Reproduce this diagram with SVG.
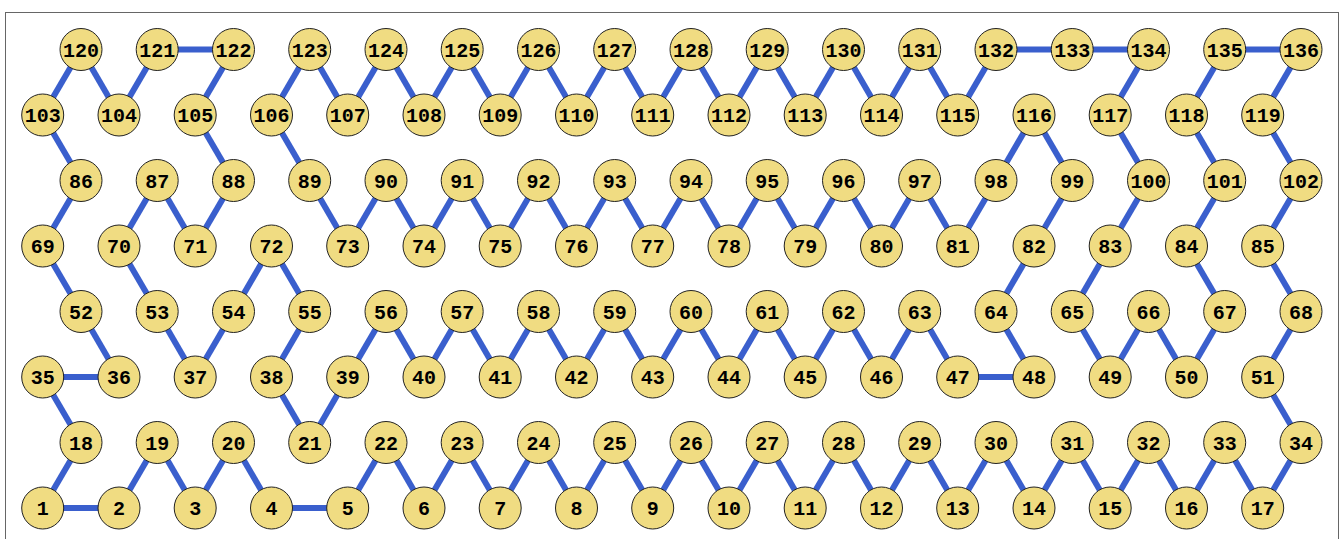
<svg xmlns="http://www.w3.org/2000/svg" width="1343" height="539" viewBox="0 0 1343 539">
<style>
.node circle{fill:#f0dc82;stroke:#222;stroke-width:1}
.node text{font-family:"Liberation Mono","Courier New",monospace;font-weight:bold;font-size:20px;fill:#000;text-anchor:middle}
#edges line{stroke:#3a5fcd;stroke-width:6}
</style>
<rect x="5.5" y="12.5" width="1333" height="540" fill="#fff" stroke="#666" stroke-width="1"/>
<g id="edges">
<line x1="42.7" y1="508" x2="119" y2="508"/>
<line x1="42.7" y1="508" x2="81" y2="442.5"/>
<line x1="119" y1="508" x2="157.2" y2="442.5"/>
<line x1="157.2" y1="442.5" x2="195.2" y2="508"/>
<line x1="195.2" y1="508" x2="233.5" y2="442.5"/>
<line x1="233.5" y1="442.5" x2="271.5" y2="508"/>
<line x1="271.5" y1="508" x2="347.7" y2="508"/>
<line x1="347.7" y1="508" x2="386" y2="442.5"/>
<line x1="386" y1="442.5" x2="424" y2="508"/>
<line x1="424" y1="508" x2="462.2" y2="442.5"/>
<line x1="462.2" y1="442.5" x2="500.2" y2="508"/>
<line x1="500.2" y1="508" x2="538.5" y2="442.5"/>
<line x1="538.5" y1="442.5" x2="576.5" y2="508"/>
<line x1="576.5" y1="508" x2="614.7" y2="442.5"/>
<line x1="614.7" y1="442.5" x2="652.7" y2="508"/>
<line x1="652.7" y1="508" x2="691" y2="442.5"/>
<line x1="691" y1="442.5" x2="729" y2="508"/>
<line x1="729" y1="508" x2="767.2" y2="442.5"/>
<line x1="767.2" y1="442.5" x2="805.2" y2="508"/>
<line x1="805.2" y1="508" x2="843.5" y2="442.5"/>
<line x1="843.5" y1="442.5" x2="881.5" y2="508"/>
<line x1="881.5" y1="508" x2="919.7" y2="442.5"/>
<line x1="919.7" y1="442.5" x2="957.7" y2="508"/>
<line x1="957.7" y1="508" x2="996" y2="442.5"/>
<line x1="996" y1="442.5" x2="1034" y2="508"/>
<line x1="1034" y1="508" x2="1072.2" y2="442.5"/>
<line x1="1072.2" y1="442.5" x2="1110.2" y2="508"/>
<line x1="1110.2" y1="508" x2="1148.5" y2="442.5"/>
<line x1="1148.5" y1="442.5" x2="1186.5" y2="508"/>
<line x1="1186.5" y1="508" x2="1224.7" y2="442.5"/>
<line x1="1224.7" y1="442.5" x2="1262.7" y2="508"/>
<line x1="1262.7" y1="508" x2="1301" y2="442.5"/>
<line x1="1301" y1="442.5" x2="1262.7" y2="377"/>
<line x1="1262.7" y1="377" x2="1301" y2="311.5"/>
<line x1="1301" y1="311.5" x2="1262.7" y2="246"/>
<line x1="1262.7" y1="246" x2="1301" y2="180.5"/>
<line x1="1301" y1="180.5" x2="1262.7" y2="115"/>
<line x1="1262.7" y1="115" x2="1301" y2="49.5"/>
<line x1="1301" y1="49.5" x2="1224.7" y2="49.5"/>
<line x1="1224.7" y1="49.5" x2="1186.5" y2="115"/>
<line x1="1186.5" y1="115" x2="1224.7" y2="180.5"/>
<line x1="1224.7" y1="180.5" x2="1186.5" y2="246"/>
<line x1="1186.5" y1="246" x2="1224.7" y2="311.5"/>
<line x1="1224.7" y1="311.5" x2="1186.5" y2="377"/>
<line x1="1186.5" y1="377" x2="1148.5" y2="311.5"/>
<line x1="1148.5" y1="311.5" x2="1110.2" y2="377"/>
<line x1="1110.2" y1="377" x2="1072.2" y2="311.5"/>
<line x1="1072.2" y1="311.5" x2="1110.2" y2="246"/>
<line x1="1110.2" y1="246" x2="1148.5" y2="180.5"/>
<line x1="1148.5" y1="180.5" x2="1110.2" y2="115"/>
<line x1="1110.2" y1="115" x2="1148.5" y2="49.5"/>
<line x1="1148.5" y1="49.5" x2="1072.2" y2="49.5"/>
<line x1="1072.2" y1="49.5" x2="996" y2="49.5"/>
<line x1="996" y1="49.5" x2="957.7" y2="115"/>
<line x1="957.7" y1="115" x2="919.7" y2="49.5"/>
<line x1="919.7" y1="49.5" x2="881.5" y2="115"/>
<line x1="881.5" y1="115" x2="843.5" y2="49.5"/>
<line x1="843.5" y1="49.5" x2="805.2" y2="115"/>
<line x1="805.2" y1="115" x2="767.2" y2="49.5"/>
<line x1="767.2" y1="49.5" x2="729" y2="115"/>
<line x1="729" y1="115" x2="691" y2="49.5"/>
<line x1="691" y1="49.5" x2="652.7" y2="115"/>
<line x1="652.7" y1="115" x2="614.7" y2="49.5"/>
<line x1="614.7" y1="49.5" x2="576.5" y2="115"/>
<line x1="576.5" y1="115" x2="538.5" y2="49.5"/>
<line x1="538.5" y1="49.5" x2="500.2" y2="115"/>
<line x1="500.2" y1="115" x2="462.2" y2="49.5"/>
<line x1="462.2" y1="49.5" x2="424" y2="115"/>
<line x1="424" y1="115" x2="386" y2="49.5"/>
<line x1="386" y1="49.5" x2="347.7" y2="115"/>
<line x1="347.7" y1="115" x2="309.7" y2="49.5"/>
<line x1="309.7" y1="49.5" x2="271.5" y2="115"/>
<line x1="271.5" y1="115" x2="309.7" y2="180.5"/>
<line x1="309.7" y1="180.5" x2="347.7" y2="246"/>
<line x1="347.7" y1="246" x2="386" y2="180.5"/>
<line x1="386" y1="180.5" x2="424" y2="246"/>
<line x1="424" y1="246" x2="462.2" y2="180.5"/>
<line x1="462.2" y1="180.5" x2="500.2" y2="246"/>
<line x1="500.2" y1="246" x2="538.5" y2="180.5"/>
<line x1="538.5" y1="180.5" x2="576.5" y2="246"/>
<line x1="576.5" y1="246" x2="614.7" y2="180.5"/>
<line x1="614.7" y1="180.5" x2="652.7" y2="246"/>
<line x1="652.7" y1="246" x2="691" y2="180.5"/>
<line x1="691" y1="180.5" x2="729" y2="246"/>
<line x1="729" y1="246" x2="767.2" y2="180.5"/>
<line x1="767.2" y1="180.5" x2="805.2" y2="246"/>
<line x1="805.2" y1="246" x2="843.5" y2="180.5"/>
<line x1="843.5" y1="180.5" x2="881.5" y2="246"/>
<line x1="881.5" y1="246" x2="919.7" y2="180.5"/>
<line x1="919.7" y1="180.5" x2="957.7" y2="246"/>
<line x1="957.7" y1="246" x2="996" y2="180.5"/>
<line x1="996" y1="180.5" x2="1034" y2="115"/>
<line x1="1034" y1="115" x2="1072.2" y2="180.5"/>
<line x1="1072.2" y1="180.5" x2="1034" y2="246"/>
<line x1="1034" y1="246" x2="996" y2="311.5"/>
<line x1="996" y1="311.5" x2="1034" y2="377"/>
<line x1="1034" y1="377" x2="957.7" y2="377"/>
<line x1="957.7" y1="377" x2="919.7" y2="311.5"/>
<line x1="919.7" y1="311.5" x2="881.5" y2="377"/>
<line x1="881.5" y1="377" x2="843.5" y2="311.5"/>
<line x1="843.5" y1="311.5" x2="805.2" y2="377"/>
<line x1="805.2" y1="377" x2="767.2" y2="311.5"/>
<line x1="767.2" y1="311.5" x2="729" y2="377"/>
<line x1="729" y1="377" x2="691" y2="311.5"/>
<line x1="691" y1="311.5" x2="652.7" y2="377"/>
<line x1="652.7" y1="377" x2="614.7" y2="311.5"/>
<line x1="614.7" y1="311.5" x2="576.5" y2="377"/>
<line x1="576.5" y1="377" x2="538.5" y2="311.5"/>
<line x1="538.5" y1="311.5" x2="500.2" y2="377"/>
<line x1="500.2" y1="377" x2="462.2" y2="311.5"/>
<line x1="462.2" y1="311.5" x2="424" y2="377"/>
<line x1="424" y1="377" x2="386" y2="311.5"/>
<line x1="386" y1="311.5" x2="347.7" y2="377"/>
<line x1="347.7" y1="377" x2="309.7" y2="442.5"/>
<line x1="309.7" y1="442.5" x2="271.5" y2="377"/>
<line x1="271.5" y1="377" x2="309.7" y2="311.5"/>
<line x1="309.7" y1="311.5" x2="271.5" y2="246"/>
<line x1="271.5" y1="246" x2="233.5" y2="311.5"/>
<line x1="233.5" y1="311.5" x2="195.2" y2="377"/>
<line x1="195.2" y1="377" x2="157.2" y2="311.5"/>
<line x1="157.2" y1="311.5" x2="119" y2="246"/>
<line x1="119" y1="246" x2="157.2" y2="180.5"/>
<line x1="157.2" y1="180.5" x2="195.2" y2="246"/>
<line x1="195.2" y1="246" x2="233.5" y2="180.5"/>
<line x1="233.5" y1="180.5" x2="195.2" y2="115"/>
<line x1="195.2" y1="115" x2="233.5" y2="49.5"/>
<line x1="233.5" y1="49.5" x2="157.2" y2="49.5"/>
<line x1="157.2" y1="49.5" x2="119" y2="115"/>
<line x1="119" y1="115" x2="81" y2="49.5"/>
<line x1="81" y1="49.5" x2="42.7" y2="115"/>
<line x1="42.7" y1="115" x2="81" y2="180.5"/>
<line x1="81" y1="180.5" x2="42.7" y2="246"/>
<line x1="42.7" y1="246" x2="81" y2="311.5"/>
<line x1="81" y1="311.5" x2="119" y2="377"/>
<line x1="119" y1="377" x2="42.7" y2="377"/>
<line x1="42.7" y1="377" x2="81" y2="442.5"/>
</g>
<g id="n1" class="node" transform="translate(42.7,508)"><circle r="21"/><text y="7">1</text></g>
<g id="n2" class="node" transform="translate(119,508)"><circle r="21"/><text y="7">2</text></g>
<g id="n3" class="node" transform="translate(195.2,508)"><circle r="21"/><text y="7">3</text></g>
<g id="n4" class="node" transform="translate(271.5,508)"><circle r="21"/><text y="7">4</text></g>
<g id="n5" class="node" transform="translate(347.7,508)"><circle r="21"/><text y="7">5</text></g>
<g id="n6" class="node" transform="translate(424,508)"><circle r="21"/><text y="7">6</text></g>
<g id="n7" class="node" transform="translate(500.2,508)"><circle r="21"/><text y="7">7</text></g>
<g id="n8" class="node" transform="translate(576.5,508)"><circle r="21"/><text y="7">8</text></g>
<g id="n9" class="node" transform="translate(652.7,508)"><circle r="21"/><text y="7">9</text></g>
<g id="n10" class="node" transform="translate(729,508)"><circle r="21"/><text y="7">10</text></g>
<g id="n11" class="node" transform="translate(805.2,508)"><circle r="21"/><text y="7">11</text></g>
<g id="n12" class="node" transform="translate(881.5,508)"><circle r="21"/><text y="7">12</text></g>
<g id="n13" class="node" transform="translate(957.7,508)"><circle r="21"/><text y="7">13</text></g>
<g id="n14" class="node" transform="translate(1034,508)"><circle r="21"/><text y="7">14</text></g>
<g id="n15" class="node" transform="translate(1110.2,508)"><circle r="21"/><text y="7">15</text></g>
<g id="n16" class="node" transform="translate(1186.5,508)"><circle r="21"/><text y="7">16</text></g>
<g id="n17" class="node" transform="translate(1262.7,508)"><circle r="21"/><text y="7">17</text></g>
<g id="n18" class="node" transform="translate(81,442.5)"><circle r="21"/><text y="7">18</text></g>
<g id="n19" class="node" transform="translate(157.2,442.5)"><circle r="21"/><text y="7">19</text></g>
<g id="n20" class="node" transform="translate(233.5,442.5)"><circle r="21"/><text y="7">20</text></g>
<g id="n21" class="node" transform="translate(309.7,442.5)"><circle r="21"/><text y="7">21</text></g>
<g id="n22" class="node" transform="translate(386,442.5)"><circle r="21"/><text y="7">22</text></g>
<g id="n23" class="node" transform="translate(462.2,442.5)"><circle r="21"/><text y="7">23</text></g>
<g id="n24" class="node" transform="translate(538.5,442.5)"><circle r="21"/><text y="7">24</text></g>
<g id="n25" class="node" transform="translate(614.7,442.5)"><circle r="21"/><text y="7">25</text></g>
<g id="n26" class="node" transform="translate(691,442.5)"><circle r="21"/><text y="7">26</text></g>
<g id="n27" class="node" transform="translate(767.2,442.5)"><circle r="21"/><text y="7">27</text></g>
<g id="n28" class="node" transform="translate(843.5,442.5)"><circle r="21"/><text y="7">28</text></g>
<g id="n29" class="node" transform="translate(919.7,442.5)"><circle r="21"/><text y="7">29</text></g>
<g id="n30" class="node" transform="translate(996,442.5)"><circle r="21"/><text y="7">30</text></g>
<g id="n31" class="node" transform="translate(1072.2,442.5)"><circle r="21"/><text y="7">31</text></g>
<g id="n32" class="node" transform="translate(1148.5,442.5)"><circle r="21"/><text y="7">32</text></g>
<g id="n33" class="node" transform="translate(1224.7,442.5)"><circle r="21"/><text y="7">33</text></g>
<g id="n34" class="node" transform="translate(1301,442.5)"><circle r="21"/><text y="7">34</text></g>
<g id="n35" class="node" transform="translate(42.7,377)"><circle r="21"/><text y="7">35</text></g>
<g id="n36" class="node" transform="translate(119,377)"><circle r="21"/><text y="7">36</text></g>
<g id="n37" class="node" transform="translate(195.2,377)"><circle r="21"/><text y="7">37</text></g>
<g id="n38" class="node" transform="translate(271.5,377)"><circle r="21"/><text y="7">38</text></g>
<g id="n39" class="node" transform="translate(347.7,377)"><circle r="21"/><text y="7">39</text></g>
<g id="n40" class="node" transform="translate(424,377)"><circle r="21"/><text y="7">40</text></g>
<g id="n41" class="node" transform="translate(500.2,377)"><circle r="21"/><text y="7">41</text></g>
<g id="n42" class="node" transform="translate(576.5,377)"><circle r="21"/><text y="7">42</text></g>
<g id="n43" class="node" transform="translate(652.7,377)"><circle r="21"/><text y="7">43</text></g>
<g id="n44" class="node" transform="translate(729,377)"><circle r="21"/><text y="7">44</text></g>
<g id="n45" class="node" transform="translate(805.2,377)"><circle r="21"/><text y="7">45</text></g>
<g id="n46" class="node" transform="translate(881.5,377)"><circle r="21"/><text y="7">46</text></g>
<g id="n47" class="node" transform="translate(957.7,377)"><circle r="21"/><text y="7">47</text></g>
<g id="n48" class="node" transform="translate(1034,377)"><circle r="21"/><text y="7">48</text></g>
<g id="n49" class="node" transform="translate(1110.2,377)"><circle r="21"/><text y="7">49</text></g>
<g id="n50" class="node" transform="translate(1186.5,377)"><circle r="21"/><text y="7">50</text></g>
<g id="n51" class="node" transform="translate(1262.7,377)"><circle r="21"/><text y="7">51</text></g>
<g id="n52" class="node" transform="translate(81,311.5)"><circle r="21"/><text y="7">52</text></g>
<g id="n53" class="node" transform="translate(157.2,311.5)"><circle r="21"/><text y="7">53</text></g>
<g id="n54" class="node" transform="translate(233.5,311.5)"><circle r="21"/><text y="7">54</text></g>
<g id="n55" class="node" transform="translate(309.7,311.5)"><circle r="21"/><text y="7">55</text></g>
<g id="n56" class="node" transform="translate(386,311.5)"><circle r="21"/><text y="7">56</text></g>
<g id="n57" class="node" transform="translate(462.2,311.5)"><circle r="21"/><text y="7">57</text></g>
<g id="n58" class="node" transform="translate(538.5,311.5)"><circle r="21"/><text y="7">58</text></g>
<g id="n59" class="node" transform="translate(614.7,311.5)"><circle r="21"/><text y="7">59</text></g>
<g id="n60" class="node" transform="translate(691,311.5)"><circle r="21"/><text y="7">60</text></g>
<g id="n61" class="node" transform="translate(767.2,311.5)"><circle r="21"/><text y="7">61</text></g>
<g id="n62" class="node" transform="translate(843.5,311.5)"><circle r="21"/><text y="7">62</text></g>
<g id="n63" class="node" transform="translate(919.7,311.5)"><circle r="21"/><text y="7">63</text></g>
<g id="n64" class="node" transform="translate(996,311.5)"><circle r="21"/><text y="7">64</text></g>
<g id="n65" class="node" transform="translate(1072.2,311.5)"><circle r="21"/><text y="7">65</text></g>
<g id="n66" class="node" transform="translate(1148.5,311.5)"><circle r="21"/><text y="7">66</text></g>
<g id="n67" class="node" transform="translate(1224.7,311.5)"><circle r="21"/><text y="7">67</text></g>
<g id="n68" class="node" transform="translate(1301,311.5)"><circle r="21"/><text y="7">68</text></g>
<g id="n69" class="node" transform="translate(42.7,246)"><circle r="21"/><text y="7">69</text></g>
<g id="n70" class="node" transform="translate(119,246)"><circle r="21"/><text y="7">70</text></g>
<g id="n71" class="node" transform="translate(195.2,246)"><circle r="21"/><text y="7">71</text></g>
<g id="n72" class="node" transform="translate(271.5,246)"><circle r="21"/><text y="7">72</text></g>
<g id="n73" class="node" transform="translate(347.7,246)"><circle r="21"/><text y="7">73</text></g>
<g id="n74" class="node" transform="translate(424,246)"><circle r="21"/><text y="7">74</text></g>
<g id="n75" class="node" transform="translate(500.2,246)"><circle r="21"/><text y="7">75</text></g>
<g id="n76" class="node" transform="translate(576.5,246)"><circle r="21"/><text y="7">76</text></g>
<g id="n77" class="node" transform="translate(652.7,246)"><circle r="21"/><text y="7">77</text></g>
<g id="n78" class="node" transform="translate(729,246)"><circle r="21"/><text y="7">78</text></g>
<g id="n79" class="node" transform="translate(805.2,246)"><circle r="21"/><text y="7">79</text></g>
<g id="n80" class="node" transform="translate(881.5,246)"><circle r="21"/><text y="7">80</text></g>
<g id="n81" class="node" transform="translate(957.7,246)"><circle r="21"/><text y="7">81</text></g>
<g id="n82" class="node" transform="translate(1034,246)"><circle r="21"/><text y="7">82</text></g>
<g id="n83" class="node" transform="translate(1110.2,246)"><circle r="21"/><text y="7">83</text></g>
<g id="n84" class="node" transform="translate(1186.5,246)"><circle r="21"/><text y="7">84</text></g>
<g id="n85" class="node" transform="translate(1262.7,246)"><circle r="21"/><text y="7">85</text></g>
<g id="n86" class="node" transform="translate(81,180.5)"><circle r="21"/><text y="7">86</text></g>
<g id="n87" class="node" transform="translate(157.2,180.5)"><circle r="21"/><text y="7">87</text></g>
<g id="n88" class="node" transform="translate(233.5,180.5)"><circle r="21"/><text y="7">88</text></g>
<g id="n89" class="node" transform="translate(309.7,180.5)"><circle r="21"/><text y="7">89</text></g>
<g id="n90" class="node" transform="translate(386,180.5)"><circle r="21"/><text y="7">90</text></g>
<g id="n91" class="node" transform="translate(462.2,180.5)"><circle r="21"/><text y="7">91</text></g>
<g id="n92" class="node" transform="translate(538.5,180.5)"><circle r="21"/><text y="7">92</text></g>
<g id="n93" class="node" transform="translate(614.7,180.5)"><circle r="21"/><text y="7">93</text></g>
<g id="n94" class="node" transform="translate(691,180.5)"><circle r="21"/><text y="7">94</text></g>
<g id="n95" class="node" transform="translate(767.2,180.5)"><circle r="21"/><text y="7">95</text></g>
<g id="n96" class="node" transform="translate(843.5,180.5)"><circle r="21"/><text y="7">96</text></g>
<g id="n97" class="node" transform="translate(919.7,180.5)"><circle r="21"/><text y="7">97</text></g>
<g id="n98" class="node" transform="translate(996,180.5)"><circle r="21"/><text y="7">98</text></g>
<g id="n99" class="node" transform="translate(1072.2,180.5)"><circle r="21"/><text y="7">99</text></g>
<g id="n100" class="node" transform="translate(1148.5,180.5)"><circle r="21"/><text y="7">100</text></g>
<g id="n101" class="node" transform="translate(1224.7,180.5)"><circle r="21"/><text y="7">101</text></g>
<g id="n102" class="node" transform="translate(1301,180.5)"><circle r="21"/><text y="7">102</text></g>
<g id="n103" class="node" transform="translate(42.7,115)"><circle r="21"/><text y="7">103</text></g>
<g id="n104" class="node" transform="translate(119,115)"><circle r="21"/><text y="7">104</text></g>
<g id="n105" class="node" transform="translate(195.2,115)"><circle r="21"/><text y="7">105</text></g>
<g id="n106" class="node" transform="translate(271.5,115)"><circle r="21"/><text y="7">106</text></g>
<g id="n107" class="node" transform="translate(347.7,115)"><circle r="21"/><text y="7">107</text></g>
<g id="n108" class="node" transform="translate(424,115)"><circle r="21"/><text y="7">108</text></g>
<g id="n109" class="node" transform="translate(500.2,115)"><circle r="21"/><text y="7">109</text></g>
<g id="n110" class="node" transform="translate(576.5,115)"><circle r="21"/><text y="7">110</text></g>
<g id="n111" class="node" transform="translate(652.7,115)"><circle r="21"/><text y="7">111</text></g>
<g id="n112" class="node" transform="translate(729,115)"><circle r="21"/><text y="7">112</text></g>
<g id="n113" class="node" transform="translate(805.2,115)"><circle r="21"/><text y="7">113</text></g>
<g id="n114" class="node" transform="translate(881.5,115)"><circle r="21"/><text y="7">114</text></g>
<g id="n115" class="node" transform="translate(957.7,115)"><circle r="21"/><text y="7">115</text></g>
<g id="n116" class="node" transform="translate(1034,115)"><circle r="21"/><text y="7">116</text></g>
<g id="n117" class="node" transform="translate(1110.2,115)"><circle r="21"/><text y="7">117</text></g>
<g id="n118" class="node" transform="translate(1186.5,115)"><circle r="21"/><text y="7">118</text></g>
<g id="n119" class="node" transform="translate(1262.7,115)"><circle r="21"/><text y="7">119</text></g>
<g id="n120" class="node" transform="translate(81,49.5)"><circle r="21"/><text y="7">120</text></g>
<g id="n121" class="node" transform="translate(157.2,49.5)"><circle r="21"/><text y="7">121</text></g>
<g id="n122" class="node" transform="translate(233.5,49.5)"><circle r="21"/><text y="7">122</text></g>
<g id="n123" class="node" transform="translate(309.7,49.5)"><circle r="21"/><text y="7">123</text></g>
<g id="n124" class="node" transform="translate(386,49.5)"><circle r="21"/><text y="7">124</text></g>
<g id="n125" class="node" transform="translate(462.2,49.5)"><circle r="21"/><text y="7">125</text></g>
<g id="n126" class="node" transform="translate(538.5,49.5)"><circle r="21"/><text y="7">126</text></g>
<g id="n127" class="node" transform="translate(614.7,49.5)"><circle r="21"/><text y="7">127</text></g>
<g id="n128" class="node" transform="translate(691,49.5)"><circle r="21"/><text y="7">128</text></g>
<g id="n129" class="node" transform="translate(767.2,49.5)"><circle r="21"/><text y="7">129</text></g>
<g id="n130" class="node" transform="translate(843.5,49.5)"><circle r="21"/><text y="7">130</text></g>
<g id="n131" class="node" transform="translate(919.7,49.5)"><circle r="21"/><text y="7">131</text></g>
<g id="n132" class="node" transform="translate(996,49.5)"><circle r="21"/><text y="7">132</text></g>
<g id="n133" class="node" transform="translate(1072.2,49.5)"><circle r="21"/><text y="7">133</text></g>
<g id="n134" class="node" transform="translate(1148.5,49.5)"><circle r="21"/><text y="7">134</text></g>
<g id="n135" class="node" transform="translate(1224.7,49.5)"><circle r="21"/><text y="7">135</text></g>
<g id="n136" class="node" transform="translate(1301,49.5)"><circle r="21"/><text y="7">136</text></g>
</svg>
